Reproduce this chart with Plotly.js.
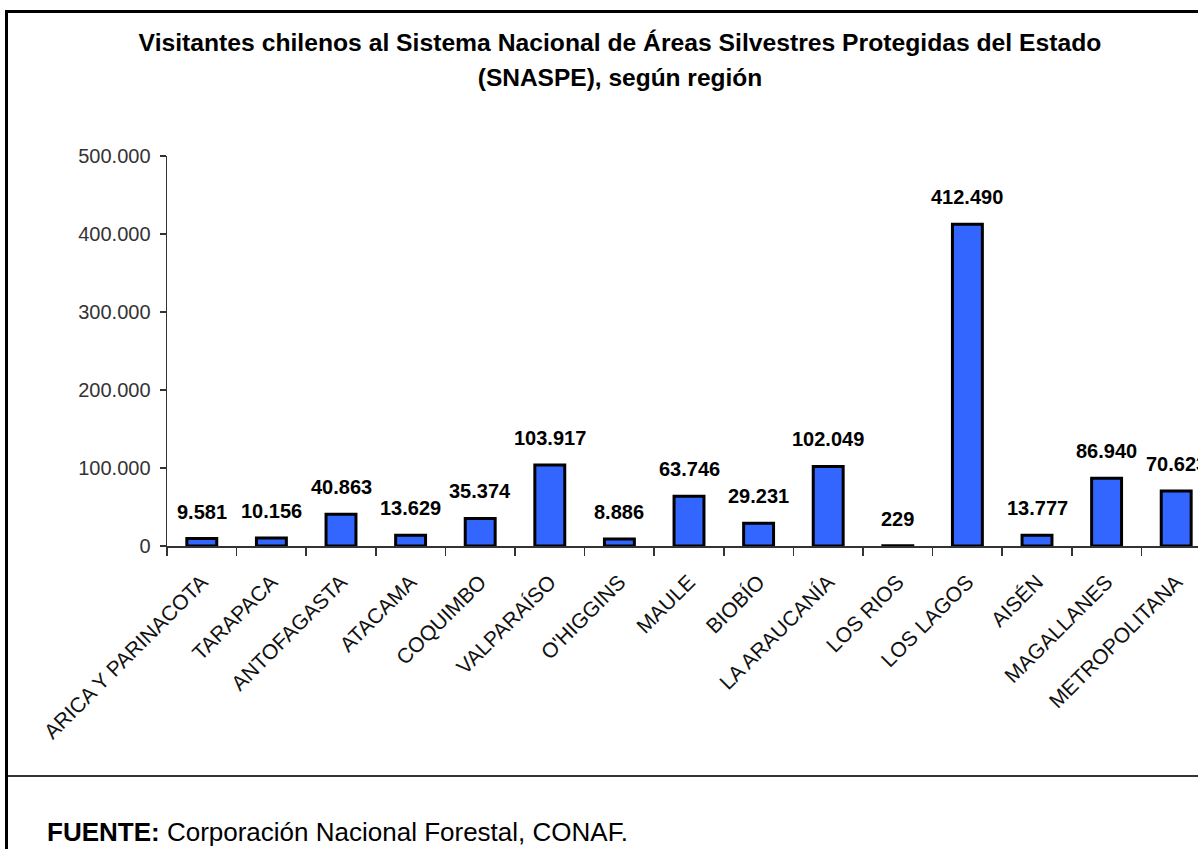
<!DOCTYPE html>
<html>
<head>
<meta charset="utf-8">
<script src="https://cdn.plot.ly/plotly-3.0.1.min.js"></script>
<style>
  html, body { margin: 0; padding: 0; overflow: hidden; background: #fff; }
  #chart { width: 1240px; height: 849px; }
</style>
</head>
<body>
<div id="chart"></div>
<script>
// ---- data ----
const regions = [
  "ARICA Y PARINACOTA", "TARAPACA", "ANTOFAGASTA", "ATACAMA", "COQUIMBO",
  "VALPARAÍSO", "O'HIGGINS", "MAULE", "BIOBÍO", "LA ARAUCANÍA",
  "LOS RIOS", "LOS LAGOS", "AISÉN", "MAGALLANES", "METROPOLITANA"
];
const visitors = [
  9581, 10156, 40863, 13629, 35374,
  103917, 8886, 63746, 29231, 102049,
  229, 412490, 13777, 86940, 70623
];
const yTicks = [0, 100000, 200000, 300000, 400000, 500000];
const titleLine1 = "Visitantes chilenos al Sistema Nacional de Áreas Silvestres Protegidas del Estado";
const titleLine2 = "(SNASPE), según región";
const sourceLabel = "FUENTE:";
const sourceText = "Corporación Nacional Forestal, CONAF.";

// ---- layout geometry ----
const W = 1240, H = 849, L = 167, T = 156, PW = 1044, PH = 390;
const R = W - L - PW, B = H - T - PH;
const px = v => (v - L) / PW;
const py = v => (T + PH - v) / PH;
const FONT = "Liberation Sans, Arial, sans-serif";
const fmt = v => String(v).replace(/\B(?=(\d{3})+(?!\d))/g, ".");

const trace = {
  type: "bar",
  x: regions,
  y: visitors,
  marker: { color: "#3366FF", line: { color: "#000000", width: 3 } },
  hoverinfo: "x+y"
};

const valueLabels = regions.map((r, i) => ({
  x: r, y: visitors[i], xref: "x", yref: "y",
  text: "<b>" + fmt(visitors[i]) + "</b>",
  showarrow: false, yanchor: "bottom", yshift: 14,
  font: { family: FONT, size: 20, color: "#000" }
}));

const footer = {
  xref: "paper", yref: "paper", x: px(45), y: py(832),
  xanchor: "left", yanchor: "middle", showarrow: false,
  text: "<b>" + sourceLabel + "</b> " + sourceText,
  font: { family: FONT, size: 26, color: "#000" }
};

const layout = {
  width: W, height: H,
  margin: { l: L, r: R, t: T, b: B, pad: 0 },
  paper_bgcolor: "#fff", plot_bgcolor: "#fff",
  separators: ",.",
  showlegend: false,
  bargap: 0.57,
  title: {
    text: '<span style="font-size:24.7px">' + titleLine1 + '</span><br><span style="font-size:24.5px">' + titleLine2 + '</span>',
    font: { family: FONT, size: 27, color: "#000", weight: "bold" },
    x: 0.5, xref: "container", xanchor: "center",
    y: 1 - 51 / H, yref: "container", yanchor: "top"
  },
  xaxis: {
    type: "category",
    showline: true, linecolor: "#333", linewidth: 1.5,
    ticks: "outside", tickson: "boundaries", ticklen: 8, tickcolor: "#333", tickwidth: 1.5,
    tickangle: -45,
    ticklabelstandoff: 14,
    tickfont: { family: FONT, size: 21, color: "#111" },
    showgrid: false, zeroline: false, fixedrange: true
  },
  yaxis: {
    range: [0, 500000],
    tickvals: yTicks, tickformat: ",d",
    showline: true, linecolor: "#333", linewidth: 1.5,
    ticks: "outside", ticklen: 6, tickcolor: "#333", tickwidth: 1.5,
    ticklabelstandoff: 5,
    tickfont: { family: FONT, size: 20, color: "#333" },
    showgrid: false, zeroline: false, fixedrange: true
  },
  shapes: [
    { type: "line", xref: "paper", yref: "paper", x0: px(6.5), x1: px(6.5), y0: py(10), y1: py(H + 5), line: { color: "#000", width: 3 } },
    { type: "line", xref: "paper", yref: "paper", x0: px(5), x1: px(W + 5), y0: py(11.5), y1: py(11.5), line: { color: "#000", width: 3 } },
    { type: "line", xref: "paper", yref: "paper", x0: px(8), x1: px(W + 5), y0: py(776), y1: py(776), line: { color: "#333", width: 2 } }
  ],
  annotations: valueLabels.concat([footer])
};

Plotly.newPlot("chart", [trace], layout, { displayModeBar: false, staticPlot: true });
</script>
</body>
</html>
